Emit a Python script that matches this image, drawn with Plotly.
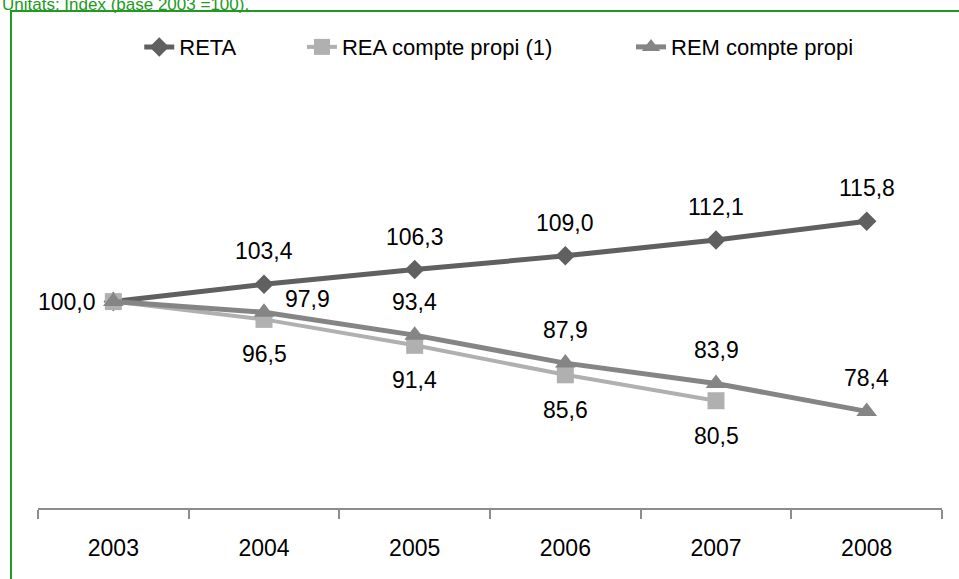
import plotly.graph_objects as go

# data
years = ["2003", "2004", "2005", "2006", "2007", "2008"]
reta = [100.0, 103.4, 106.3, 109.0, 112.1, 115.8]
rea = [100.0, 96.5, 91.4, 85.6, 80.5, None]
rem = [100.0, 97.9, 93.4, 87.9, 83.9, 78.4]

FONT = "Liberation Sans, Arial, sans-serif"
GREEN = "#229922"

series = [
    ("RETA", reta, "#606060", "diamond", 15, 5, "legend", 0.112),
    ("REA compte propi (1)", rea, "#b0b0b0", "square", 17, 4, "legend2", 0.292),
    ("REM compte propi", rem, "#858585", "triangle-up", 18, 5, "legend3", 0.656),
]

fig = go.Figure()
legends = {}
for name, vals, col, sym, msize, lw, leg, lx in series:
    fig.add_trace(go.Scatter(
        x=years, y=vals, name=name, mode="lines+markers",
        line=dict(color=col, width=lw),
        marker=dict(symbol=sym, size=msize, color=col),
        hoverinfo="skip", legend=leg,
    ))
    legends[leg] = dict(orientation="h", x=lx, y=1.38, xanchor="left", yanchor="middle",
                        font=dict(size=22, family=FONT), bgcolor="rgba(0,0,0,0)")

# data labels (x given as category index)
def fmt(v):
    return f"{v:.1f}".replace(".", ",")

annotations = []
for i, v in enumerate(reta):
    xs, ys = (-46, 0) if i == 0 else (0, 33)
    annotations.append(dict(x=i, y=v, text=fmt(v), showarrow=False,
                            xshift=xs, yshift=ys))
for i, v in enumerate(rea):
    if i == 0 or v is None:
        continue
    annotations.append(dict(x=i, y=v, text=fmt(v), showarrow=False,
                            yshift=-35))
for i, v in enumerate(rem):
    if i == 0:
        continue
    xs, ys = (43, 13) if i == 1 else (0, 33)
    annotations.append(dict(x=i, y=v, text=fmt(v), showarrow=False,
                            xshift=xs, yshift=ys))
for a in annotations:
    a["font"] = dict(size=23, color="black", family=FONT)

# units line at the top, cut by the frame as in the reference
annotations.append(dict(
    xref="paper", yref="paper", x=-0.042, y=1.508, xanchor="left", yanchor="middle",
    text="Unitats: Índex (base 2003 =100).", showarrow=False,
    font=dict(size=17, color=GREEN, family=FONT),
))

fig.update_layout(
    width=959, height=579,
    margin=dict(l=38, r=17, t=174, b=71),
    plot_bgcolor="white", paper_bgcolor="white",
    font=dict(family=FONT, color="black"),
    showlegend=True,
    xaxis=dict(type="category", range=[-0.5, 5.5], showgrid=False, zeroline=False,
               showline=True, linecolor="#8c8c8c", linewidth=2,
               ticks="outside", tickson="boundaries", ticklen=9, tickcolor="#8c8c8c",
               tickwidth=1.5, ticklabelstandoff=18,
               tickfont=dict(size=23, family=FONT, color="black")),
    yaxis=dict(visible=False, range=[59.4, 125.1]),
    annotations=annotations,
    shapes=[dict(type="rect", xref="paper", yref="paper",
                 x0=-0.0299, x1=1.06, y0=-0.25, y1=1.488,
                 line=dict(color=GREEN, width=2), layer="below")],
    **legends,
)

fig.write_html("out.html", config={"displayModeBar": False},
               post_script="document.body.style.margin='0';")
